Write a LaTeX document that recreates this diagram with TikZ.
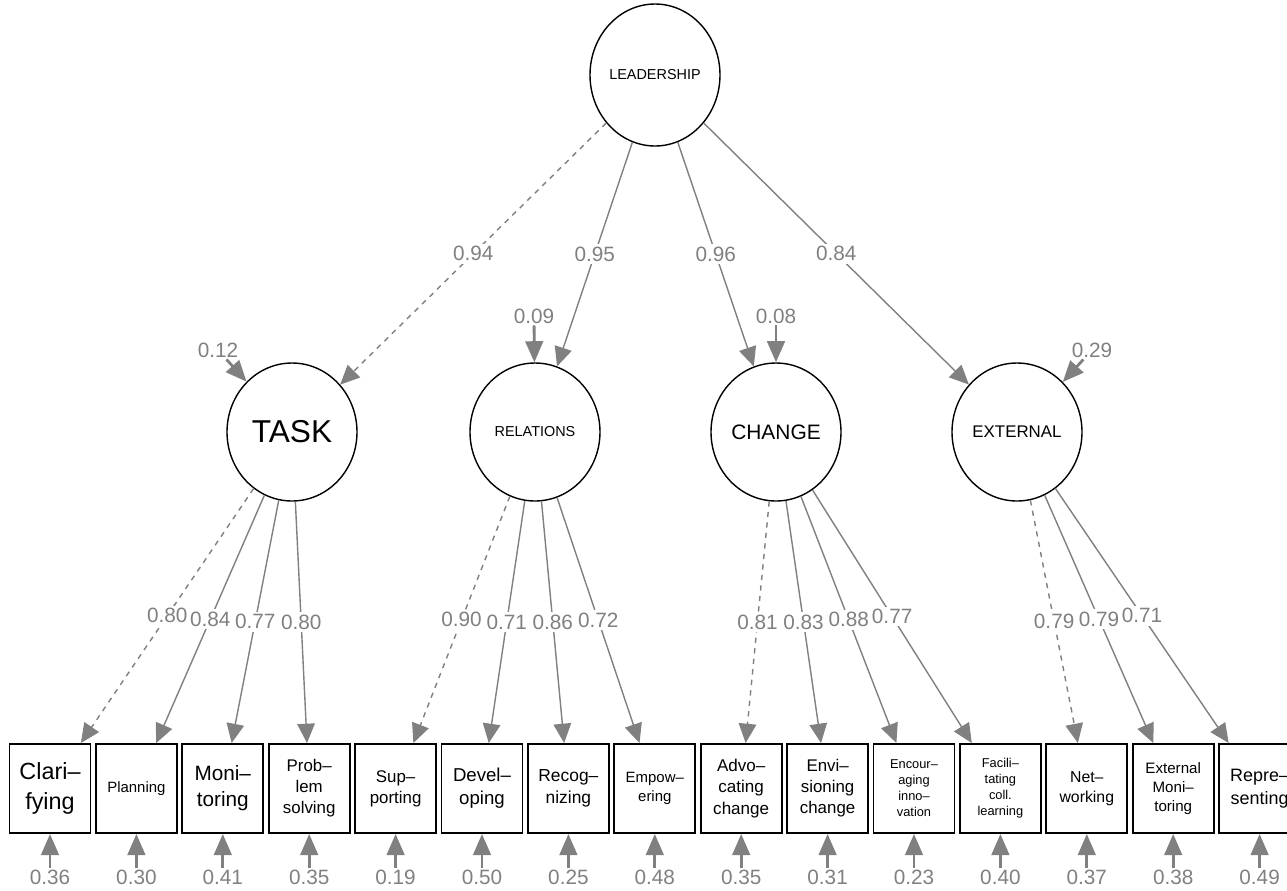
\documentclass[tikz,border=0pt]{standalone}
\usepackage{fontspec}
\setmainfont{Liberation Sans}
\usepackage{tikz}
\usetikzlibrary{shapes.geometric}
\usetikzlibrary{arrows.meta}
\usepackage{color}
\definecolor{pathgray}{RGB}{128,128,128}
\newcommand{\fsz}[1]{\fontsize{#1}{1.25\dimexpr#1\relax}\selectfont}

\begin{document}
\begin{tikzpicture}[
	latent/.style={ellipse,draw,line width=0.8pt,minimum width=2.6cm,minimum height=2.76cm,inner sep=0pt},
	manifest/.style={rectangle,draw,line width=1.1pt,minimum width=1.62cm,minimum height=1.78cm,align=center,inner sep=1pt},
	load/.style={draw=pathgray,line width=0.8pt,-{Triangle[length=11pt,width=10pt]}},
	loadlab/.style={fill=white,text=pathgray,font=\fsz{11.8pt},inner sep=1.5pt},
	resid/.style={draw=pathgray,line width=1.6pt,-{Triangle[length=12pt,width=10pt]}},
	residlab/.style={text=pathgray,font=\fsz{11.8pt},inner sep=1pt}]
	\useasboundingbox (0,0) rectangle (25.74,-17.8);
	\node[latent,minimum height=2.84cm,font=\fsz{8.2pt}] (lead) at (13.1,-1.5) {LEADERSHIP};
	\node[latent,font=\fsz{18pt}] (task) at (5.84,-8.64) {TASK};
	\node[latent,font=\fsz{8.2pt}] (rela) at (10.7,-8.64) {RELATIONS};
	\node[latent,font=\fsz{11.9pt}] (chan) at (15.52,-8.64) {CHANGE};
	\node[latent,font=\fsz{9.6pt}] (exte) at (20.34,-8.64) {EXTERNAL};
	\node[manifest,font=\fsz{13.3pt}] (clar) at (1.0,-15.77) {Clari--\\fying};
	\node[manifest,font=\fsz{8.5pt}] (plan) at (2.728,-15.77) {Planning};
	\node[manifest,font=\fsz{11.8pt}] (moni) at (4.456,-15.77) {Moni--\\toring};
	\node[manifest,font=\fsz{9.6pt}] (prob) at (6.184,-15.77) {Prob--\\lem\\solving};
	\node[manifest,font=\fsz{9.6pt}] (supp) at (7.912,-15.77) {Sup--\\porting};
	\node[manifest,font=\fsz{10.6pt}] (deve) at (9.64,-15.77) {Devel--\\oping};
	\node[manifest,font=\fsz{9.9pt}] (reco) at (11.368,-15.77) {Recog--\\nizing};
	\node[manifest,font=\fsz{8.5pt}] (empo) at (13.096,-15.77) {Empow--\\ering};
	\node[manifest,font=\fsz{9.7pt}] (advo) at (14.824,-15.77) {Advo--\\cating\\change};
	\node[manifest,font=\fsz{9.6pt}] (envi) at (16.552,-15.77) {Envi--\\sioning\\change};
	\node[manifest,font=\fsz{7.3pt}] (enco) at (18.28,-15.77) {Encour--\\aging\\inno--\\vation};
	\node[manifest,font=\fsz{7.3pt}] (faci) at (20.008,-15.77) {Facili--\\tating\\coll.\\learning};
	\node[manifest,font=\fsz{9pt}] (netw) at (21.736,-15.77) {Net--\\working};
	\node[manifest,font=\fsz{8.6pt}] (extm) at (23.464,-15.77) {External\\Moni--\\toring};
	\node[manifest,font=\fsz{10.2pt}] (repr) at (25.192,-15.77) {Repre--\\senting};
	\draw[load,dashed] (lead) -- node[loadlab]{0.94} (task);
	\draw[load] (lead) -- node[loadlab]{0.95} (rela);
	\draw[load] (lead) -- node[loadlab]{0.96} (chan);
	\draw[load] (lead) -- node[loadlab]{0.84} (exte);
	\draw[load,dashed] (task) -- node[loadlab]{0.80} (clar);
	\draw[load] (task) -- node[loadlab]{0.84} (plan);
	\draw[load] (task) -- node[loadlab]{0.77} (moni);
	\draw[load] (task) -- node[loadlab]{0.80} (prob);
	\draw[load,dashed] (rela) -- node[loadlab]{0.90} (supp);
	\draw[load] (rela) -- node[loadlab]{0.71} (deve);
	\draw[load] (rela) -- node[loadlab]{0.86} (reco);
	\draw[load] (rela) -- node[loadlab]{0.72} (empo);
	\draw[load,dashed] (chan) -- node[loadlab]{0.81} (advo);
	\draw[load] (chan) -- node[loadlab]{0.83} (envi);
	\draw[load] (chan) -- node[loadlab]{0.88} (enco);
	\draw[load] (chan) -- node[loadlab]{0.77} (faci);
	\draw[load,dashed] (exte) -- node[loadlab]{0.79} (netw);
	\draw[load] (exte) -- node[loadlab]{0.79} (extm);
	\draw[load] (exte) -- node[loadlab]{0.71} (repr);
	\node[residlab] (task-e) at (4.36,-7.0) {0.12};
	\node[residlab] (rela-e) at (10.68,-6.32) {0.09};
	\node[residlab] (chan-e) at (15.52,-6.32) {0.08};
	\node[residlab] (exte-e) at (21.84,-7.0) {0.29};
	\foreach \lv in {task,rela,chan,exte}
		\draw[resid] (\lv-e) -- (\lv);
	\foreach \ov/\ev in {clar/0.36,plan/0.30,moni/0.41,prob/0.35,supp/0.19,deve/0.50,reco/0.25,empo/0.48,advo/0.35,envi/0.31,enco/0.23,faci/0.40,netw/0.37,extm/0.38,repr/0.49}{
		\node[residlab] (\ov-e) at (\ov.south |- 0,-17.54) {\ev};
		\draw[resid] (\ov-e) -- (\ov);
	}
\end{tikzpicture}
\end{document}
